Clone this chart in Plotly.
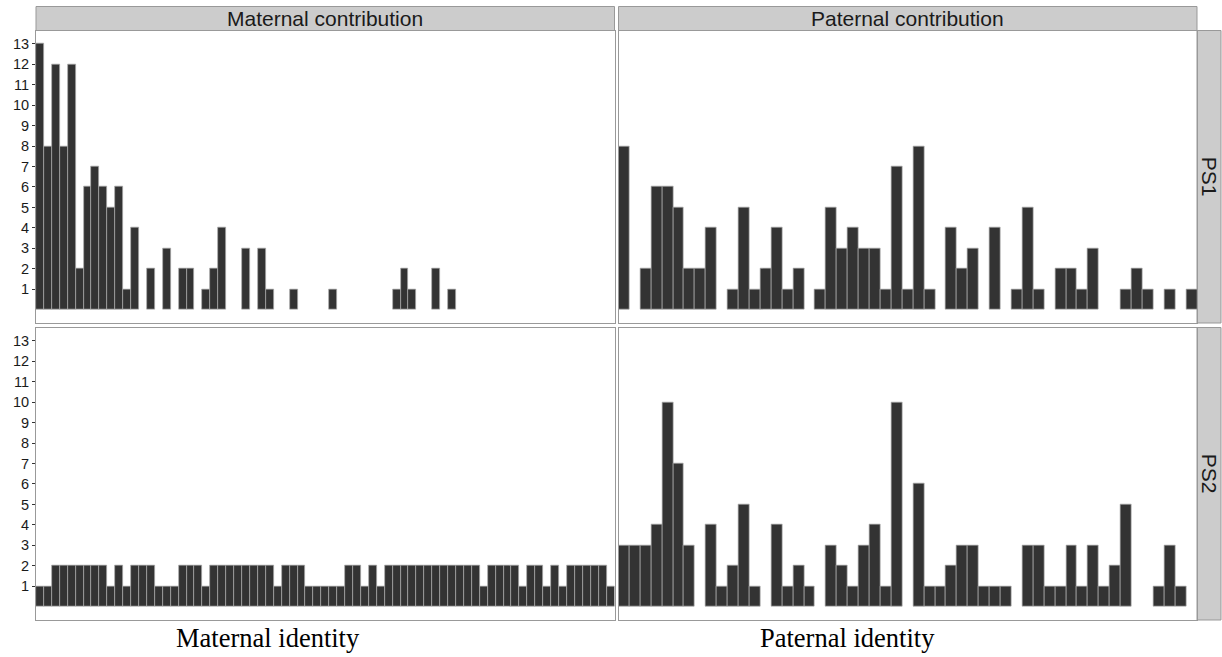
import plotly.graph_objects as go

# ---- data ----
maternal_ids = [f"M{i+1}" for i in range(73)]
paternal_ids = [f"P{i+1}" for i in range(53)]

maternal_ps1 = [13, 8, 12, 8, 12, 2, 6, 7, 6, 5, 6, 1, 4, 0, 2, 0, 3, 0, 2, 2,
                0, 1, 2, 4, 0, 0, 3, 0, 3, 1, 0, 0, 1, 0, 0, 0, 0, 1, 0, 0,
                0, 0, 0, 0, 0, 1, 2, 1, 0, 0, 2, 0, 1, 0, 0, 0, 0, 0, 0, 0,
                0, 0, 0, 0, 0, 0, 0, 0, 0, 0, 0, 0, 0]
maternal_ps2 = [1, 1, 2, 2, 2, 2, 2, 2, 2, 1, 2, 1, 2, 2, 2, 1, 1, 1, 2, 2,
                2, 1, 2, 2, 2, 2, 2, 2, 2, 2, 1, 2, 2, 2, 1, 1, 1, 1, 1, 2,
                2, 1, 2, 1, 2, 2, 2, 2, 2, 2, 2, 2, 2, 2, 2, 2, 1, 2, 2, 2,
                2, 1, 2, 2, 1, 2, 1, 2, 2, 2, 2, 2, 1]
paternal_ps1 = [8, 0, 2, 6, 6, 5, 2, 2, 4, 0, 1, 5, 1, 2, 4, 1, 2, 0, 1, 5,
                3, 4, 3, 3, 1, 7, 1, 8, 1, 0, 4, 2, 3, 0, 4, 0, 1, 5, 1, 0,
                2, 2, 1, 3, 0, 0, 1, 2, 1, 0, 1, 0, 1]
paternal_ps2 = [3, 3, 3, 4, 10, 7, 3, 0, 4, 1, 2, 5, 1, 0, 4, 1, 2, 1, 0, 3,
                2, 1, 3, 4, 1, 10, 0, 6, 1, 1, 2, 3, 3, 1, 1, 1, 0, 3, 3, 1,
                1, 3, 1, 3, 1, 2, 5, 0, 0, 1, 3, 1, 0]

col_labels = ["Maternal contribution", "Paternal contribution"]
row_labels = ["PS1", "PS2"]
x_titles = ["Maternal identity", "Paternal identity"]
y_ticks = list(range(1, 14))

# ---- layout geometry (pixels) ----
W, H = 1222, 657
cols_px = [(36, 614.5), (618.5, 1197)]
rows_px = [(30.5, 323), (327.5, 620)]
strip_top = (6.5, 30.5)
strip_right = (1197, 1221)
title_centers = [268, 847]

def px(x):
    return x / W

def py(y):
    return 1 - y / H

fig = go.Figure()

panels = [
    (maternal_ids, maternal_ps1, "x", "y", 0, 0),
    (paternal_ids, paternal_ps1, "x2", "y2", 1, 0),
    (maternal_ids, maternal_ps2, "x3", "y3", 0, 1),
    (paternal_ids, paternal_ps2, "x4", "y4", 1, 1),
]

for cats, vals, xa, ya, c, r in panels:
    fig.add_trace(go.Bar(
        x=cats,
        y=[v if v else None for v in vals],
        xaxis=xa, yaxis=ya,
        marker=dict(color="#333333", line=dict(color="#ababab", width=0.7)),
        showlegend=False,
        hoverinfo="x+y",
    ))

border = "#999999"
layout_axes = {}
for idx, (cats, vals, xa, ya, c, r) in enumerate(panels):
    n = "" if idx == 0 else str(idx + 1)
    layout_axes["xaxis" + n] = dict(
        domain=[px(cols_px[c][0]), px(cols_px[c][1])],
        anchor=ya,
        type="category",
        categoryorder="array", categoryarray=cats,
        range=[-0.5, len(cats) - 0.5],
        showticklabels=False, ticks="",
        showgrid=False, zeroline=False,
        showline=True, mirror=True, linecolor=border, linewidth=1,
        fixedrange=True,
    )
    layout_axes["yaxis" + n] = dict(
        domain=[py(rows_px[r][1]), py(rows_px[r][0])],
        anchor=xa,
        range=[-0.65, 13.65],
        tickvals=y_ticks,
        showticklabels=(c == 0),
        ticks="outside" if c == 0 else "",
        ticklen=3, tickwidth=1, tickcolor="#333333",
        tickfont=dict(family="Liberation Sans, Arial, sans-serif", size=14.5, color="#1a1a1a"),
        showgrid=False, zeroline=False,
        showline=True, mirror=True, linecolor=border, linewidth=1,
        fixedrange=True,
    )

shapes = []
annotations = []
strip_fill = "#cccccc"
for c in range(2):
    shapes.append(dict(type="rect", xref="paper", yref="paper",
                       x0=px(cols_px[c][0]), x1=px(cols_px[c][1]),
                       y0=py(strip_top[1]), y1=py(strip_top[0]),
                       fillcolor=strip_fill, line=dict(color=border, width=1), layer="below"))
    annotations.append(dict(xref="paper", yref="paper",
                            x=px((cols_px[c][0] + cols_px[c][1]) / 2),
                            y=py((strip_top[0] + strip_top[1]) / 2),
                            text=col_labels[c], showarrow=False,
                            xanchor="center", yanchor="middle",
                            font=dict(family="Liberation Sans, Arial, sans-serif", size=21, color="#1a1a1a")))
    annotations.append(dict(xref="paper", yref="paper",
                            x=px(title_centers[c]),
                            y=py(638),
                            text=x_titles[c], showarrow=False,
                            xanchor="center", yanchor="middle",
                            font=dict(family="Liberation Serif, Times New Roman, serif", size=26.5, color="#000000")))
for r in range(2):
    shapes.append(dict(type="rect", xref="paper", yref="paper",
                       x0=px(strip_right[0]), x1=px(strip_right[1]),
                       y0=py(rows_px[r][1]), y1=py(rows_px[r][0]),
                       fillcolor=strip_fill, line=dict(color=border, width=1), layer="below"))
    annotations.append(dict(xref="paper", yref="paper",
                            x=px((strip_right[0] + strip_right[1]) / 2),
                            y=py((rows_px[r][0] + rows_px[r][1]) / 2),
                            text=row_labels[r], showarrow=False, textangle=90,
                            xanchor="center", yanchor="middle",
                            font=dict(family="Liberation Sans, Arial, sans-serif", size=21, color="#1a1a1a")))

fig.update_layout(
    width=W, height=H,
    margin=dict(l=0, r=0, t=0, b=0),
    paper_bgcolor="white", plot_bgcolor="white",
    bargap=0,
    shapes=shapes, annotations=annotations,
    **layout_axes,
)

fig.write_html(
    "out.html",
    config={"displayModeBar": False},
    post_script="document.body.style.margin='0px';document.body.style.overflow='hidden';",
)
